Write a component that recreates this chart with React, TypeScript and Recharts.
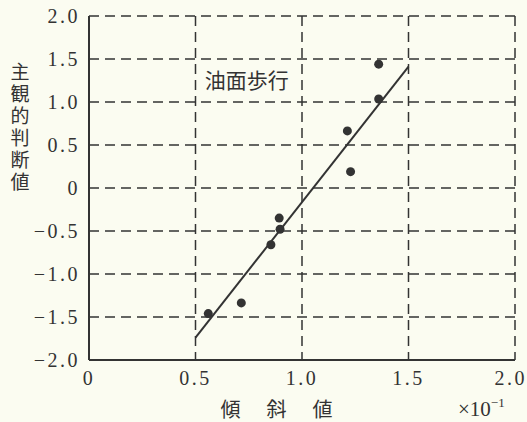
import React from 'react';
import { ScatterChart, Scatter, XAxis, YAxis, CartesianGrid, ReferenceDot } from 'recharts';

const slopeValues = [0.56, 0.715, 0.854, 0.893, 0.897, 1.213, 1.228, 1.36, 1.36];
const judgeValues = [-1.46, -1.336, -0.66, -0.35, -0.48, 0.664, 0.19, 1.44, 1.035];
const fitX = [0.5, 1.5];
const fitY = [-1.74, 1.41];
const xTicks = [0, 0.5, 1.0, 1.5, 2.0];
const yTicks = [-2.0, -1.5, -1.0, -0.5, 0, 0.5, 1.0, 1.5, 2.0];
const yTitle = '主観的判断値';
const xTitle = '傾　斜　値';
const noteText = '油面歩行';

const points = slopeValues.map((x, i) => ({ x, y: judgeValues[i] }));
const fitLine = fitX.map((x, i) => ({ x, y: fitY[i] }));

const INK = '#333333';
const serif = '"Liberation Serif", "DejaVu Serif", serif';
const cjk = '"Noto Sans CJK JP", sans-serif';

const fmt = (v: number) => {
  if (v === 0) return '0';
  const s = Math.abs(v).toFixed(1);
  return v < 0 ? '\u2212' + s : s;
};

const YTitle = () => (
  <text x={20} y={62} fill={INK} fontFamily={cjk} fontSize={19} letterSpacing={3}
    style={{ writingMode: 'vertical-rl' }}>
    {yTitle}
  </text>
);

const App: React.FC = () => {
  return (
    <div style={{ position: 'absolute', left: 0, top: 0, width: 527, height: 422, background: '#fbfcf1' }}>
      <ScatterChart width={527} height={422} margin={{ top: 16, right: 12, bottom: 0, left: 0 }}>
        <CartesianGrid stroke={INK} strokeWidth={1.5} strokeDasharray="10 6" />
        <XAxis
          type="number"
          dataKey="x"
          domain={[0, 2]}
          ticks={xTicks}
          height={62}
          tickLine={false}
          axisLine={{ stroke: INK, strokeWidth: 2 }}
          tickFormatter={fmt}
          tick={{ fill: INK, fontFamily: serif, fontSize: 20, letterSpacing: 2.5 }}
          tickMargin={5}
        />
        <YAxis
          type="number"
          dataKey="y"
          domain={[-2, 2]}
          ticks={yTicks}
          width={89}
          tickLine={false}
          axisLine={{ stroke: INK, strokeWidth: 2 }}
          tickFormatter={fmt}
          tick={{ fill: INK, fontFamily: serif, fontSize: 20, letterSpacing: 2.5 }}
          tickMargin={3}
          label={{ content: () => <YTitle /> }}
        />
        <Scatter data={points} fill={INK} isAnimationActive={false}
          shape={(p: any) => <circle cx={p.cx} cy={p.cy} r={4.5} fill={INK} />} />
        <Scatter data={fitLine} line={{ stroke: INK, strokeWidth: 2 }} shape={() => null} isAnimationActive={false} />
        <ReferenceDot x={0.52} y={1.25} r={0} fill="none" stroke="none"
          label={{ value: noteText, position: 'right', fill: INK, fontFamily: cjk, fontSize: 21 }} />
      </ScatterChart>
      <div style={{ position: 'absolute', left: 0, top: 0, pointerEvents: 'none' }}>
        <svg width={527} height={422}>
          <text x={278} y={417} fill={INK} fontFamily={cjk} fontSize={20} letterSpacing={3} textAnchor="middle">{xTitle}</text>
          <text x={458} y={416} fill={INK} fontFamily={serif} fontSize={21}>
            ×10<tspan dy={-9} fontSize={13}>−1</tspan>
          </text>
        </svg>
      </div>
    </div>
  );
};

export default App;
